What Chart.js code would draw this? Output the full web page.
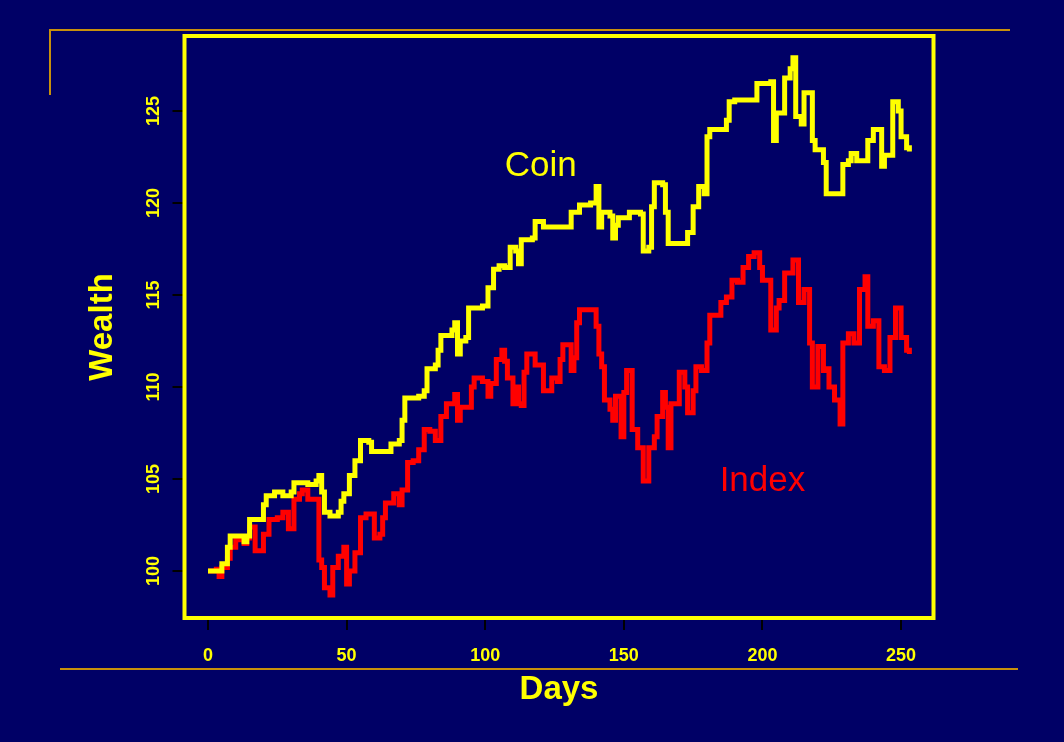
<!DOCTYPE html>
<html>
<head>
<meta charset="utf-8">
<script src="https://cdn.jsdelivr.net/npm/chart.js@4"></script>
<style>
  html, body { margin: 0; padding: 0; background: #000066; }
  canvas { display: block; }
</style>
</head>
<body>
<canvas id="wealth" width="1064" height="742"></canvas>
<script>
const coinDays = [0, 2, 5, 7, 8, 13, 14, 15, 19, 20, 21, 24, 27, 30, 31, 36, 39, 40, 41, 42, 44, 47, 48, 49, 51, 53,
  55, 58, 59, 65, 66, 69, 70, 71, 76, 78, 79, 82, 83, 84, 88, 89, 90, 91, 93, 94, 99, 101, 103, 105, 107, 109,
  111, 112, 113, 117, 118, 121, 130, 131, 134, 138, 140, 141, 142, 145, 146, 147, 148, 152, 156, 157, 159, 160,
  161, 164, 165, 166, 172, 173, 175, 177, 179, 180, 181, 184, 187, 188, 190, 198, 203, 204, 205, 207, 208, 210,
  211, 212, 214, 215, 217, 218, 219, 222, 223, 229, 231, 232, 234, 238, 240, 243, 244, 247, 249, 250, 252, 253];
const coinWealth = [100, 100, 100.4, 101.3, 101.9, 101.6, 101.9, 102.8, 102.8, 103.6, 104.1, 104.3, 104.1, 104.3,
  104.8, 104.7, 104.9, 105.2, 104.3, 103.2, 103.0, 103.2, 103.8, 104.2, 105.2, 106.0,
  107.1, 107.0, 106.5, 106.5, 106.9, 107.1, 108.2, 109.4, 109.5, 109.8, 111.0, 111.2, 112.0, 112.8, 113.1, 113.5,
  111.8, 112.5, 112.7, 114.3, 114.4, 115.4, 116.4, 116.6, 116.5, 117.6,
  117.4, 116.7, 118.0, 118.1, 119.0, 118.7, 118.7, 119.5, 119.9, 120.0, 120.9, 118.7, 119.5, 119.3, 118.1, 118.8,
  119.2, 119.5, 119.4, 117.4, 117.6, 119.8,
  121.1, 121.0, 119.5, 117.8, 117.8, 118.4, 119.8, 120.9, 120.5, 123.6, 124.0, 124.0, 124.5, 125.5, 125.6, 126.5,
  126.6, 123.4, 124.9, 124.9, 126.8, 127.3,
  127.9, 124.7, 124.3, 126.0, 126.0, 123.4, 122.9, 122.2, 120.5, 122.1, 122.3, 122.7, 122.3, 123.4, 124.0, 122.0,
  122.6, 125.5, 125.0, 123.6, 123.0, 122.8];

const indexDays = [0, 2, 3, 4, 5, 7, 8, 10, 13, 14, 15, 17, 20, 22, 25, 27, 29, 31, 33, 34, 36, 39, 40, 41, 42, 44,
  45, 47, 49, 50, 51, 53, 55, 57, 60, 62, 63, 64, 67, 69, 70, 72, 74, 76, 78, 80, 82, 84, 86, 89, 90, 91, 95, 96,
  99, 101, 102, 104, 106, 107, 108, 110, 111, 112, 113, 114, 115, 118, 121, 124, 126, 127, 128, 131, 132, 133,
  134, 140, 141, 142, 143, 145, 146, 147, 149, 150, 151, 153, 155, 157, 159, 161, 162, 164, 165, 166, 167, 170,
  172, 173, 175, 176, 178, 180, 181, 185, 187, 189, 191, 193, 195, 197, 199, 200, 203, 205, 206, 208, 211, 213,
  215, 217, 218, 220, 222, 223, 224, 226, 228, 229, 231, 233, 235, 237, 238, 240, 242, 244, 246, 248, 250, 252, 253];
const indexWealth = [100, 100, 100.1, 99.7, 100.2, 100.7, 101.3, 101.7, 101.5, 101.8, 102.4, 101.1, 102.0, 102.8,
  102.9, 103.2, 102.3, 103.9, 104.2, 104.4, 103.9, 103.9, 100.6, 100.2, 99.1, 98.7,
  100.2, 100.8, 101.3, 99.3, 100.0, 101.0, 102.9, 103.1, 101.8, 102.0, 102.9, 103.7, 104.2, 103.6, 104.4, 105.9,
  106.0, 106.6, 107.7, 107.6, 107.1, 108.4, 109.1, 109.6, 108.2, 108.9, 110.0, 110.5,
  110.3, 109.5, 110.2, 111.5, 112.0, 111.4, 110.5, 109.1, 110.0, 109.1, 109.0, 110.8, 111.8, 111.2, 109.8, 110.5,
  110.3, 111.5, 112.3, 110.9, 111.6, 113.5,
  114.2, 113.3, 111.8, 111.1, 109.3, 108.8, 108.2, 109.5, 107.3, 109.7, 110.9, 107.7, 106.7, 104.9, 106.7, 107.3,
  108.4, 109.7, 108.9, 106.7, 109.1, 110.8,
  110.0, 108.6, 109.8, 111.1, 110.9, 112.4, 113.9, 114.6, 114.9, 115.8, 115.7, 116.5, 117.1, 117.3, 116.5, 115.8,
  113.1, 114.3, 114.7, 116.2, 116.9, 114.6,
  115.3, 112.4, 110.0, 112.2, 110.9, 111.0, 110.0, 109.3, 108.0, 112.4, 112.9, 112.4, 115.3, 116.0, 113.3, 113.6,
  111.1, 110.9, 112.7, 114.3, 112.7, 112.0, 111.8];

const dayTicks = [0, 50, 100, 150, 200, 250];
const wealthTicks = [100, 105, 110, 115, 120, 125];

const navy = "#000066";
const yellow = "#ffff00";
const red = "#ff0000";
const gold = "#c8900c";

Chart.defaults.font.family = '"Liberation Sans", Arial, sans-serif';

const toPoints = (days, values) => days.map((d, i) => ({ x: d, y: values[i] }));

// slide decoration, plot frame and the in-plot labels
const frame = {
    id: "frame",
    beforeDraw(chart) {
        const ctx = chart.ctx;
        ctx.save();
        ctx.fillStyle = navy;
        ctx.fillRect(0, 0, chart.width, chart.height);
        ctx.strokeStyle = gold;
        ctx.lineWidth = 2;
        ctx.beginPath();
        ctx.moveTo(50, 95);
        ctx.lineTo(50, 30);
        ctx.lineTo(1010, 30);
        ctx.moveTo(60, 669);
        ctx.lineTo(1018, 669);
        ctx.stroke();
        ctx.restore();
    },
    afterDatasetsDraw(chart) {
        const { ctx, chartArea: a, scales } = chart;
        ctx.save();
        ctx.strokeStyle = yellow;
        ctx.lineWidth = 4;
        ctx.strokeRect(a.left, a.top, a.right - a.left, a.bottom - a.top);
        ctx.font = '35px "Liberation Sans", Arial, sans-serif';
        ctx.textAlign = "center";
        ctx.textBaseline = "middle";
        ctx.fillStyle = yellow;
        ctx.fillText("Coin", scales.x.getPixelForValue(120), scales.y.getPixelForValue(122));
        ctx.fillStyle = red;
        ctx.fillText("Index", scales.x.getPixelForValue(200), scales.y.getPixelForValue(104.9));
        ctx.restore();
    }
};

const tickFont = { size: 18, weight: "bold" };
const titleFont = { size: 33, weight: "bold" };

new Chart(document.getElementById("wealth"), {
    type: "line",
    plugins: [frame],
    data: {
        datasets: [
            {
                label: "Coin",
                data: toPoints(coinDays, coinWealth),
                borderColor: yellow,
                backgroundColor: yellow,
                borderWidth: 5,
                stepped: "before",
                pointRadius: 0,
                fill: false
            },
            {
                label: "Index",
                data: toPoints(indexDays, indexWealth),
                borderColor: red,
                backgroundColor: red,
                borderWidth: 5,
                stepped: "before",
                pointRadius: 0,
                fill: false
            }
        ]
    },
    options: {
        responsive: false,
        devicePixelRatio: 1,
        animation: false,
        layout: { padding: { left: 0, top: 36, right: 130.5, bottom: 0 } },
        plugins: {
            legend: { display: false },
            tooltip: { enabled: false }
        },
        scales: {
            x: {
                type: "linear",
                min: -8.48,
                max: 261.7,
                afterFit: (s) => { s.height = 124; },
                afterBuildTicks: (s) => { s.ticks = dayTicks.map(v => ({ value: v })); },
                border: { display: false },
                grid: { drawOnChartArea: false, tickLength: 12, color: "#000000", lineWidth: 2 },
                ticks: { color: yellow, font: tickFont, padding: 15, maxRotation: 0, minRotation: 0 },
                title: { display: true, text: "Days", color: yellow, font: titleFont, padding: { top: 0, bottom: 32 } }
            },
            y: {
                type: "linear",
                min: 97.45,
                max: 129.08,
                afterFit: (s) => { s.width = 184.5; },
                afterBuildTicks: (s) => { s.ticks = wealthTicks.map(v => ({ value: v })); },
                border: { display: false },
                grid: { drawOnChartArea: false, tickLength: 12, color: "#000000", lineWidth: 2 },
                ticks: { color: yellow, font: tickFont, padding: 3, minRotation: 90, maxRotation: 90, crossAlign: "center" },
                title: { display: true, text: "Wealth", color: yellow, font: titleFont, padding: { top: 83, bottom: 0 } }
            }
        }
    }
});
</script>
</body>
</html>
